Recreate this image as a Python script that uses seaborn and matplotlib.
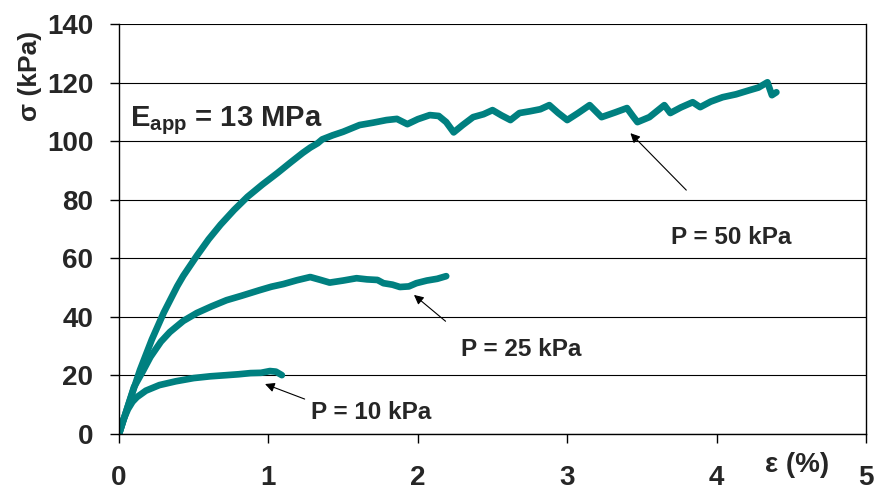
import numpy as np
import pandas as pd
import matplotlib
matplotlib.use("Agg")
import matplotlib.pyplot as plt
import seaborn as sns

# datos (deformacion %, esfuerzo kPa)
eps_50 = [0, 0.05, 0.14, 0.22, 0.30, 0.39, 0.43, 0.52, 0.60, 0.68, 0.77, 0.86, 0.96,
          1.06, 1.15, 1.23, 1.28, 1.33, 1.36, 1.43, 1.50, 1.61, 1.70, 1.79, 1.86, 1.93,
          2.00, 2.08, 2.14, 2.19, 2.24, 2.30, 2.37, 2.44, 2.50, 2.56, 2.62, 2.68, 2.75,
          2.82, 2.88, 2.94, 3.00, 3.07, 3.15, 3.23, 3.32, 3.40, 3.44, 3.47, 3.55, 3.65,
          3.69, 3.76, 3.84, 3.89, 3.96, 4.04, 4.13, 4.22, 4.28, 4.34, 4.37, 4.40]
sig_50 = [0, 8, 21.8, 32.3, 41.5, 50.5, 54, 60.8, 66.5, 71.5, 76.5, 81, 85.2,
          89.1, 92.8, 96, 97.8, 99.3, 100.6, 102, 103.2, 105.5, 106.3, 107.2, 107.6, 105.8,
          107.5, 108.9, 108.6, 106.5, 103, 105.5, 108.2, 109.2, 110.6, 108.8, 107.2, 109.6, 110.2,
          110.9, 112.3, 109.6, 107.2, 109.5, 112.3, 108.2, 109.8, 111.3, 108.5, 106.5, 108.2, 112.3,
          109.6, 111.5, 113.3, 111.6, 113.5, 115, 116, 117.4, 118.3, 120.1, 115.7, 116.7]

eps_25 = [0, 0.05, 0.10, 0.16, 0.21, 0.28, 0.34, 0.43, 0.52, 0.62, 0.72, 0.82, 0.94,
          1.02, 1.10, 1.19, 1.28, 1.35, 1.41, 1.50, 1.59, 1.66, 1.73, 1.77, 1.83, 1.88,
          1.94, 1.99, 2.06, 2.13, 2.19]
sig_25 = [0, 8, 16, 21.5, 26.3, 31.5, 34.8, 38.6, 41.3, 43.6, 45.7, 47.2, 49.1,
          50.3, 51.2, 52.5, 53.6, 52.6, 51.7, 52.4, 53.2, 52.8, 52.6, 51.5, 51.0, 50.2,
          50.4, 51.5, 52.4, 53.0, 53.9]

eps_10 = [0, 0.03, 0.06, 0.09, 0.12, 0.18, 0.27, 0.38, 0.50, 0.61, 0.72, 0.80, 0.88,
          0.95, 1.01, 1.05, 1.09]
sig_10 = [0, 5, 8.5, 11, 12.6, 14.8, 16.7, 18, 19.1, 19.7, 20.1, 20.4, 20.8,
          20.9, 21.5, 21.3, 20.1]

x_ticks = [0, 1, 2, 3, 4, 5]
y_ticks = [0, 20, 40, 60, 80, 100, 120, 140]

labels = ["P = 50 kPa", "P = 25 kPa", "P = 10 kPa"]
label_pos = [(4.10, 67.2), (2.69, 29.0), (1.69, 7.2)]
arrow_tail = [(3.81, 82.6), (2.20, 37.9), (1.26, 11.6)]
arrow_head = [(3.41, 103.4), (1.96, 48.1), (0.96, 17.4)]

sns.set_style("white")
plt.rcParams["font.family"] = ["Liberation Sans", "DejaVu Sans"]
plt.rcParams["mathtext.fontset"] = "custom"
plt.rcParams["mathtext.rm"] = "Liberation Sans"
plt.rcParams["mathtext.bf"] = "Liberation Sans:bold"

teal = "#008080"

fig, ax = plt.subplots(figsize=(8.77, 4.95), dpi=100)
fig.subplots_adjust(left=0.1357, right=0.9875, bottom=0.1232, top=0.9515)

for e, s in [(eps_50, sig_50), (eps_25, sig_25), (eps_10, sig_10)]:
    df = pd.DataFrame({"eps": e, "sig": s})
    sns.lineplot(data=df, x="eps", y="sig", sort=False, estimator=None,
                 color=teal, lw=4.8, solid_capstyle="round", solid_joinstyle="round", ax=ax)

ax.set_xlim(0, 5)
ax.set_ylim(0, 140)
ax.set_xticks(x_ticks)
ax.set_yticks(y_ticks)
ax.tick_params(axis="both", labelsize=20, length=6.5, width=1, color="black",
               direction="out", bottom=True, left=True)
ax.tick_params(axis="x", pad=16)
ax.tick_params(axis="y", pad=12)
for t in ax.get_xticklabels() + ax.get_yticklabels():
    t.set_fontweight("bold")

ax.yaxis.grid(True, color="black", lw=0.8)
ax.set_axisbelow(True)
for side in ["left", "bottom", "right"]:
    ax.spines[side].set_color("black")
    ax.spines[side].set_linewidth(1)
ax.spines["top"].set_visible(False)

ax.set_ylabel("σ (kPa)", fontsize=19, fontweight="bold")
ax.yaxis.set_label_coords(-0.103, 0.873)
ax.set_xlabel("ε (%)", fontsize=20, fontweight="bold")
ax.xaxis.set_label_coords(0.908, -0.044)

ax.text(0.074, 105, r"E$_{\mathbf{app}}$ = 13 MPa", fontsize=21, fontweight="bold",
        ha="left", va="baseline")

for lab, pos, tail, head in zip(labels, label_pos, arrow_tail, arrow_head):
    ax.text(pos[0], pos[1], lab, fontsize=17.5, fontweight="bold", ha="center", va="center")
    ax.annotate("", xy=head, xytext=tail,
                arrowprops=dict(arrowstyle="-|>", color="black", lw=0.8, mutation_scale=14))

plt.savefig("out.png", dpi=100)
